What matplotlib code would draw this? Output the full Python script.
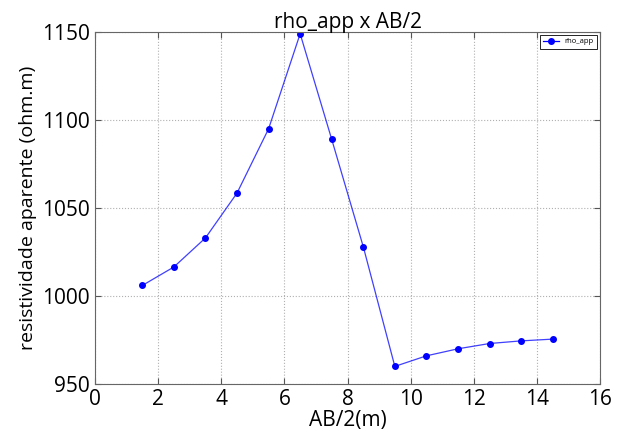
import matplotlib
matplotlib.use("Agg")
import matplotlib.pyplot as plt

# AB/2 spacing (m) and apparent resistivity (ohm.m)
ab2 = [1.5, 2.5, 3.5, 4.5, 5.5, 6.5, 7.5, 8.5, 9.5, 10.5, 11.5, 12.5, 13.5, 14.5]
rho_app = [1006, 1016.5, 1033, 1058.5, 1095, 1149, 1089, 1028, 960, 966, 970, 973, 974.5, 975.5]

plt.rcParams['font.family'] = ['Open Sans', 'DejaVu Sans']

fig = plt.figure(figsize=(6.24, 4.33), dpi=100)
ax = fig.add_axes([95/624, 1 - 384/433, (600-95)/624, (384-32)/433])

ax.plot(ab2, rho_app, color='blue', lw=0.9, alpha=0.75)
ax.plot(ab2, rho_app, 'o', color='blue', ms=4)
# legend handle with line + markers
h, = ax.plot([], [], '-o', color='blue', ms=4, lw=0.9, label='rho_app')

ax.set_xlim(0, 16)
ax.set_ylim(950, 1150)
ax.set_xticks(range(0, 17, 2))
ax.set_yticks(range(950, 1151, 50))
ax.grid(True, ls=':', color='#b0b0b0', lw=0.8)
ax.tick_params(direction='in', labelsize=15, length=4, top=True, right=True,
               color='#555555')
for s in ax.spines.values():
    s.set_color('#666666')

ax.set_title('rho_app x AB/2', fontsize=15, pad=3)
ax.set_xlabel('AB/2(m)', fontsize=15, labelpad=0)
ax.set_ylabel('resistividade aparente (ohm.m)', fontsize=14, labelpad=4)

leg = ax.legend(handles=[h], loc='upper right', fontsize=5.5, fancybox=False,
                framealpha=1, edgecolor='black', handlelength=2,
                borderaxespad=0.4)
leg.get_frame().set_linewidth(0.6)

fig.savefig('out.png', dpi=100)
